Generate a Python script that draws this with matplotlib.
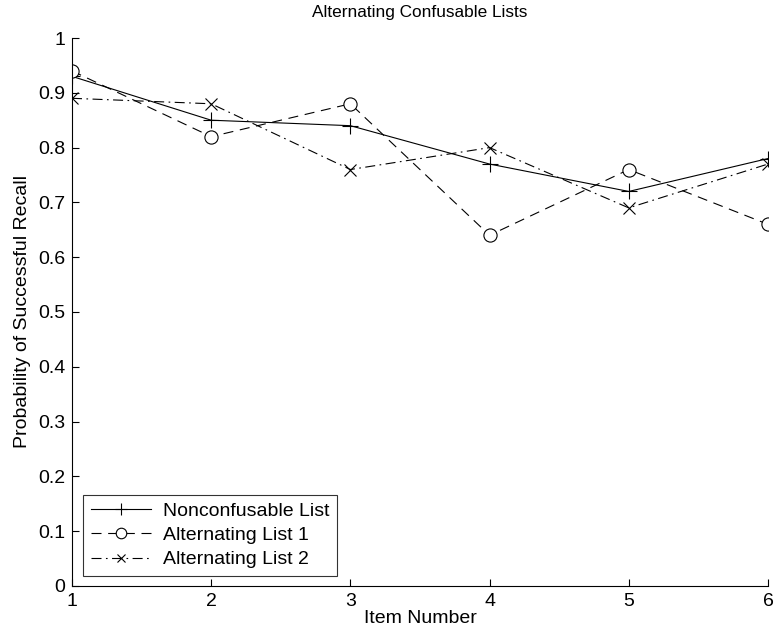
import numpy as np
import matplotlib.pyplot as plt

plt.rcParams['font.family'] = ['Liberation Sans', 'DejaVu Sans']

items = [1, 2, 3, 4, 5, 6]
noncon = [0.93, 0.85, 0.84, 0.77, 0.72, 0.78]
alt1 = [0.94, 0.82, 0.88, 0.64, 0.76, 0.66]
alt2 = [0.89, 0.88, 0.76, 0.80, 0.69, 0.77]

fig = plt.figure(figsize=(7.75, 6.39), dpi=100)
ax = fig.add_axes([0.0929, 0.083, 0.898, 0.8575])

ax.plot(items, noncon, '-', color='k', lw=0.8, marker='+', ms=11, mew=0.8,
        label='Nonconfusable List')
ax.plot(items, alt1, color='k', lw=0.8, ls=(0, (9, 6)), marker='o', ms=9.5,
        mfc='white', mew=0.8, label='Alternating List 1')
ax.plot(items, alt2, color='k', lw=0.8, ls=(0, (9, 4, 1.5, 4)), marker='x',
        ms=8, mew=0.8, label='Alternating List 2')

ax.set_xlim(1, 6)
ax.set_ylim(0, 1)
ax.set_xticks(items)
ax.set_yticks(np.arange(0, 1.01, 0.1))
ax.set_yticklabels(['0', '0.1', '0.2', '0.3', '0.4', '0.5', '0.6', '0.7', '0.8', '0.9', '1'])
for s in ['top', 'right']:
    ax.spines[s].set_visible(False)
for s in ['left', 'bottom']:
    ax.spines[s].set_linewidth(0.8)
ax.tick_params(direction='in', length=5, width=0.8, labelsize=14, pad=5)

ax.set_title('Alternating Confusable Lists', fontsize=12.4, pad=15)
ax.set_xlabel('Item Number', fontsize=14, labelpad=0)
ax.set_ylabel('Probability of Successful Recall', fontsize=14, labelpad=5)

leg = ax.legend(loc='lower left', bbox_to_anchor=(0.0155, 0.018), fontsize=14,
                frameon=True, fancybox=False, edgecolor='k', handlelength=3.1,
                borderpad=0.4, labelspacing=0.33, handletextpad=0.6,
                borderaxespad=0, markerscale=0.8)
leg.get_frame().set_linewidth(0.8)

fig.savefig('out.png', dpi=100)
